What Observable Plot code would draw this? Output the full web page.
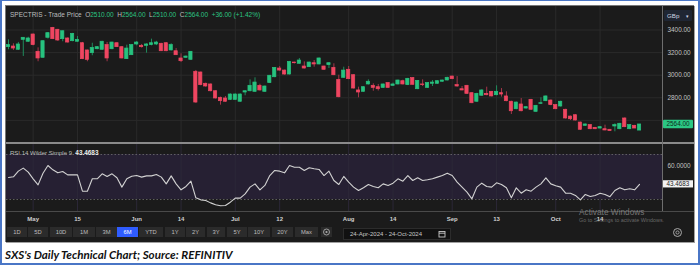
<!DOCTYPE html>
<html><head><meta charset="utf-8">
<script src="https://cdn.jsdelivr.net/npm/d3@7"></script>
<script src="https://cdn.jsdelivr.net/npm/@observablehq/plot@0.6"></script>
<style>
html,body{margin:0;padding:0;background:#fff;}
#page{position:relative;width:700px;height:265px;overflow:hidden;background:#fff;font-family:"Liberation Sans",Arial,sans-serif;}
#border{position:absolute;left:0;top:0;width:700px;height:265px;box-sizing:border-box;border:2px solid #4a76c6;border-top-width:1px;}
#dark{position:absolute;left:5px;top:5px;width:689px;height:237px;box-sizing:border-box;background:#1b1b1b;border-top:1px solid #777;border-left:1px solid #777;box-shadow:1px 1px 0 #a0a0a0;}
.abs{position:absolute;}
.hl{position:absolute;height:1px;background:#555;}
#hdr{left:10px;top:11px;font-size:6.5px;color:#bdbdbd;white-space:pre;line-height:8px;}
#hdr .g{color:#2cc383;}
#rsihdr{left:10px;top:149px;font-size:6px;color:#bdbdbd;white-space:pre;line-height:8px;}
#rsihdr b{color:#eee;font-size:6.4px;}
#gbp{left:664px;top:10px;width:28px;height:11px;background:#1f2633;color:#cfd6e6;font-size:6.2px;line-height:11px;box-sizing:border-box;padding-left:3px;border-radius:1px;}
.btn{position:absolute;top:227px;height:10px;background:#2b2b2b;color:#bdbdbd;font-size:5.8px;line-height:10px;text-align:center;}
.btn.on{background:#2f5cff;color:#fff;}
#date{left:343px;top:228px;width:108px;height:12px;background:#111;border:1px solid #2c2c2c;box-sizing:border-box;color:#c8c8c8;font-size:6px;line-height:10px;padding-left:6px;white-space:pre;}
#wm1{left:579px;top:207px;font-size:8.3px;color:rgba(190,190,190,0.55);white-space:pre;}
#wm2{left:579px;top:217px;font-size:5.4px;color:rgba(170,170,170,0.55);white-space:pre;}
#cap{left:5px;top:247.5px;font-family:Lato,"Liberation Sans",sans-serif;font-weight:bold;font-style:italic;font-size:11.6px;color:#111;white-space:pre;}
</style></head>
<body>
<div id="page">
  <div id="border"></div>
  <div id="dark"></div>
  <div class="abs" id="pricebox" style="left:6px;top:6px;"></div>
  <div class="abs" id="rsibox" style="left:6px;top:143px;"></div>
  <div class="hl" style="left:6px;top:142px;width:688px;height:1.5px;background:#8a8a8a;"></div>
  <div class="hl" style="left:6px;top:211px;width:688px;background:#4a4a4a;"></div>
  <div class="abs" style="left:662px;top:6px;width:1px;height:205px;background:#6e6e6e;"></div>
  <div class="abs" id="hdr"></div>
  <div class="abs" id="rsihdr"></div>
  <div class="abs" id="gbp">GBp <span style="margin-left:5px;font-size:5px">&#9662;</span></div>
  <div id="toolbar"></div>
  <div class="abs" id="date"></div>
  <svg class="abs" style="left:438px;top:230px" width="8" height="8"><rect x="1" y="1.5" width="6" height="5.5" fill="none" stroke="#c8c8c8" stroke-width="0.9"/><line x1="1" y1="3.2" x2="7" y2="3.2" stroke="#c8c8c8" stroke-width="0.9"/></svg>
  <div class="abs" id="wm1">Activate Windows</div>
  <div class="abs" id="wm2">Go to Settings to activate Windows.</div>
  <svg class="abs" style="left:672px;top:227px" width="11" height="11"><circle cx="5.5" cy="5.5" r="4" fill="none" stroke="#aaa" stroke-width="1"/><circle cx="5.5" cy="5.5" r="1.6" fill="none" stroke="#aaa" stroke-width="0.9"/></svg>
  <div class="abs" id="cap"></div>
</div>
<script>
// ---------- data ----------
const instrument = "SPECTRIS - Trade Price";
const change = "+36.00 (+1.42%)";
const caption = "SXS's Daily Technical Chart; Source: REFINITIV";
const dateRange = "24-Apr-2024 - 24-Oct-2024";
const rangeButtons = ["1D","5D","10D","1M","3M","6M","YTD","1Y","2Y","3Y","5Y","10Y","20Y","Max"];
const activeButton = "6M";

const opens = [3248,3254,3225,3313,3296,3360,3207,3154,3331,3419,3402,3319,3325,3301,3296,3283,3219,3195,3230,3225,
3266,3230,3283,3248,3142,3177,3272,3260,3260,3266,3272,3278,3283,3219,3212,3148,3154,3136,3030,3024,
2924,2918,2858,2800,2794,2782,2782,2765,2847,2858,2853,2906,2853,2930,2982,3059,3041,3006,3112,3101,
3077,3071,3106,3095,3077,3089,3065,2959,2977,3048,3000,2865,2853,2918,2906,2894,2888,2930,2906,2918,
2947,2912,2974,2876,2918,2888,2924,2924,2942,2953,2988,2912,2876,2906,2841,2765,2818,2835,2853,2823,
2841,2812,2765,2699,2741,2705,2782,2676,2747,2770,2776,2735,2723,2694,2634,2646,2581,2552,2558,2534,
2528,2522,2517,2546,2522,2617,2522,2552,2510];
const highs = [3313,3278,3290,3333,3336,3365,3242,3305,3378,3423,3405,3392,3330,3370,3342,3290,3222,3283,3254,3300,
3290,3292,3286,3252,3266,3270,3298,3272,3278,3319,3300,3282,3288,3278,3236,3189,3170,3210,3042,3028,
2930,2922,2862,2806,2812,2835,2835,2835,2862,2959,2977,2920,2904,2998,3068,3077,3045,3122,3115,3148,
3118,3115,3130,3152,3080,3110,3101,3000,3071,3077,3004,2894,2897,2959,2924,2918,2922,2934,2930,2956,
2956,2972,2978,2953,2959,2934,2953,2950,2956,2982,2992,2988,2900,2910,2845,2840,2870,2894,2856,2906,
2882,2853,2770,2762,2794,2722,2786,2733,2800,2816,2780,2740,2770,2698,2638,2650,2585,2568,2562,2538,
2545,2558,2520,2570,2574,2622,2562,2556,2564];
const lows = [3225,3219,3219,3166,3290,3260,3119,3150,3320,3315,3300,3296,3285,3296,3292,3138,3119,3172,3225,3220,
3119,3225,3245,3145,3140,3174,3260,3240,3195,3260,3262,3210,3208,3215,3174,3112,3148,3132,2752,2906,
2894,2853,2790,2735,2760,2776,2776,2760,2818,2853,2850,2860,2850,2926,2978,3036,3000,3002,3100,3098,
3055,3068,3071,3092,3044,3059,2996,2800,2972,2960,2878,2800,2850,2914,2858,2860,2884,2884,2902,2914,
2914,2908,2912,2872,2900,2884,2900,2920,2938,2950,2960,2894,2862,2830,2748,2760,2814,2818,2808,2818,
2806,2765,2652,2694,2676,2700,2690,2672,2741,2766,2730,2695,2718,2612,2599,2595,2512,2548,2518,2518,
2524,2508,2502,2499,2518,2536,2518,2530,2510];
const closes = [3266,3236,3272,3331,3325,3266,3148,3301,3372,3319,3307,3389,3289,3366,3313,3142,3136,3242,3248,3296,
3148,3289,3248,3148,3236,3266,3289,3248,3272,3283,3289,3212,3212,3266,3177,3124,3165,3207,2758,2912,
2900,2858,2794,2770,2765,2829,2829,2829,2858,2906,2935,2865,2900,2995,3065,3041,3006,3118,3106,3130,
3059,3112,3095,3148,3048,3106,3000,2805,3041,2965,2882,2847,2894,2942,2888,2876,2918,2888,2918,2953,
2918,2968,2915,2950,2912,2930,2935,2947,2953,2977,2965,2900,2865,2835,2752,2835,2865,2823,2812,2853,
2829,2770,2681,2758,2681,2717,2694,2729,2752,2812,2735,2699,2765,2617,2610,2599,2517,2564,2522,2522,
2540,2511,2505,2558,2570,2540,2558,2528,2564];
const rsi = [49.6,50.2,55.2,57.9,54.3,48.4,43.0,53.4,60.2,56.4,53.7,54.9,51.9,51.9,51.9,37.4,37.4,48.4,48.4,52.8,
50.4,52.8,49.3,41.0,48.4,50.7,51.3,49.9,51.0,51.0,52.2,49.9,43.9,51.0,43.9,38.6,41.6,46.3,31.5,29.7,
29.1,27.0,25.3,24.4,24.7,27.6,31.2,31.2,35.0,41.0,43.9,38.6,42.5,51.3,55.8,55.2,53.7,60.2,58.7,58.7,
55.8,58.2,57.3,56.7,51.3,55.2,46.9,43.3,50.5,45.4,41.0,38.0,40.4,43.3,41.6,40.4,43.9,42.5,44.5,48.4,
46.3,51.3,46.9,49.3,46.9,47.5,48.4,49.9,51.3,53.4,51.3,45.4,41.0,36.5,30.6,41.0,44.5,41.6,41.0,44.8,
43.3,40.4,31.5,40.4,35.6,38.6,37.4,41.0,43.9,49.3,43.9,42.2,41.0,35.6,35.6,33.6,29.7,34.5,32.7,33.6,
35.5,34.5,32.5,38.0,40.4,38.6,39.5,38.6,43.4683];
const xTickIdx = [5,14,26,35,46,55,69,78,90,99,111,120];
const xTickLabels = ["May","15","Jun","14","Jul","12","Aug","14","Sep","13","Oct","14"];
const priceGrid = [2600,2800,3000,3200,3400];
const priceLabels = [2800,3000,3200,3400];
const rsiLabels = [60];
const rsiBand = [30,70];

// ---------- styling ----------
const UP = "#27c27f", DOWN = "#ef4661", UPW = "#1f8c5c", DOWNW = "#a5354a";
const FONT = "'Liberation Sans', Arial, sans-serif";
const N = closes.length;
const idx = d3.range(N);
const isUp = i => closes[i] >= opens[i];
const xRange = [2, 2 + 4.93 * (N - 1)];
const gridC = "#2a2a2a";

// ---------- price panel ----------
const price = Plot.plot({
  width: 688, height: 137,
  marginLeft: 0, marginRight: 32, marginTop: 0, marginBottom: 0,
  style: {background: "transparent", color: "#c4c4c4", fontFamily: FONT, fontSize: "6.4px", overflow: "visible"},
  x: {domain: [0, N - 1], range: xRange, axis: null},
  y: {domain: [2400, 3400], range: [136.5, 23.5], axis: null},
  color: {type: "identity"},
  marks: [
    Plot.gridY(priceGrid, {stroke: gridC, strokeOpacity: 1}),
    Plot.gridX(xTickIdx, {stroke: gridC, strokeOpacity: 1}),
    Plot.ruleX(idx, {x: i => i, y1: i => lows[i], y2: i => highs[i], stroke: i => isUp(i) ? UPW : DOWNW, strokeWidth: 1}),
    Plot.rect(idx, {x1: i => i - 0.33, x2: i => i + 0.33, y1: i => opens[i], y2: i => closes[i],
      fill: i => isUp(i) ? UP : DOWN, stroke: i => isUp(i) ? UP : DOWN, strokeWidth: 0.7}),
    Plot.axisY(priceLabels, {anchor: "right", tickSize: 0, tickPadding: 5, tickFormat: d => d.toFixed(2), fill: "#c4c4c4"})
  ]
});
document.getElementById("pricebox").appendChild(price);
{
  const y = price.scale("y").apply(closes[N - 1]);
  const s = d3.select(price);
  s.append("rect").attr("x", 657).attr("y", y - 4.3).attr("width", 30).attr("height", 8.6).attr("fill", "#2bc784").attr("rx", 1);
  s.append("text").attr("x", 660.5).attr("y", y).attr("dy", "0.35em").attr("fill", "#0d2b1c").attr("text-anchor", "start")
    .attr("font-size", "6.4px").attr("font-family", FONT).text(closes[N - 1].toFixed(2));
}

// ---------- RSI panel ----------
const rsiChart = Plot.plot({
  width: 688, height: 83,
  marginLeft: 0, marginRight: 32, marginTop: 0, marginBottom: 15,
  style: {background: "transparent", color: "#c4c4c4", fontFamily: FONT, fontSize: "6.4px", overflow: "visible"},
  x: {domain: [0, N - 1], range: xRange, axis: null},
  y: {domain: rsiBand, range: [56, 11], axis: null},
  marks: [
    Plot.rect([rsiBand], {y1: d => d[0], y2: d => d[1], fill: "#262033"}),
    Plot.gridX(xTickIdx, {stroke: "#2c2838", strokeOpacity: 1}),
    Plot.ruleY(rsiBand, {stroke: "#707070", strokeDasharray: "1.5,2", strokeWidth: 0.8}),
    Plot.line(rsi, {x: (d, i) => i, y: d => d, stroke: "#d2d2d2", strokeWidth: 1.1}),
    Plot.axisY(rsiLabels, {anchor: "right", tickSize: 0, tickPadding: 5, tickFormat: d => d.toFixed(4), fill: "#c4c4c4"}),
    Plot.axisX(xTickIdx, {anchor: "bottom", tickSize: 0, tickPadding: 5, fill: "#cfcfcf", fontWeight: "bold", fontSize: "6px",
      tickFormat: d => xTickLabels[xTickIdx.indexOf(d)]})
  ]
});
document.getElementById("rsibox").appendChild(rsiChart);
{
  const last = rsi[N - 1];
  const y = rsiChart.scale("y").apply(last);
  const s = d3.select(rsiChart);
  s.append("rect").attr("x", 657).attr("y", y - 3.6).attr("width", 30).attr("height", 7.2).attr("fill", "#f2f2f2");
  s.append("text").attr("x", 660.5).attr("y", y).attr("dy", "0.35em").attr("fill", "#222").attr("text-anchor", "start")
    .attr("font-size", "6.3px").attr("font-family", FONT).text(last.toFixed(4));
}

// ---------- chrome text ----------
const f = v => v.toFixed(2);
document.getElementById("hdr").innerHTML =
  `${instrument}  O<span class="g">${f(opens[N-1])}</span>  H<span class="g">${f(highs[N-1])}</span>  L<span class="g">${f(lows[N-1])}</span>  C<span class="g">${f(closes[N-1])}</span>  <span class="g">${change}</span>`;
document.getElementById("rsihdr").innerHTML = `RSI 14 Wilder Simple 9  <b>${rsi[N-1].toFixed(4)}</b>`;
document.getElementById("date").textContent = dateRange;
document.getElementById("cap").textContent = caption;

const btnLeft = [7,28,50,73,96,117,139,165,186,207,227,248,272,295];
const btnW = [20,20,22,22,21,21,24,20,19,18,20,22,21,23];
const tb = document.getElementById("toolbar");
rangeButtons.forEach((b, i) => {
  const d = document.createElement("div");
  d.className = "btn" + (b === activeButton ? " on" : "");
  d.style.left = btnLeft[i] + "px"; d.style.width = btnW[i] + "px";
  d.textContent = b; tb.appendChild(d);
});
const g = document.createElement("div");
g.className = "btn"; g.style.left = "321px"; g.style.width = "11px";
g.innerHTML = `<svg width="11" height="10"><circle cx="5.5" cy="5" r="3" fill="none" stroke="#aaa" stroke-width="0.9"/><circle cx="5.5" cy="5" r="1.1" fill="#aaa"/></svg>`;
tb.appendChild(g);
</script>
</body></html>
